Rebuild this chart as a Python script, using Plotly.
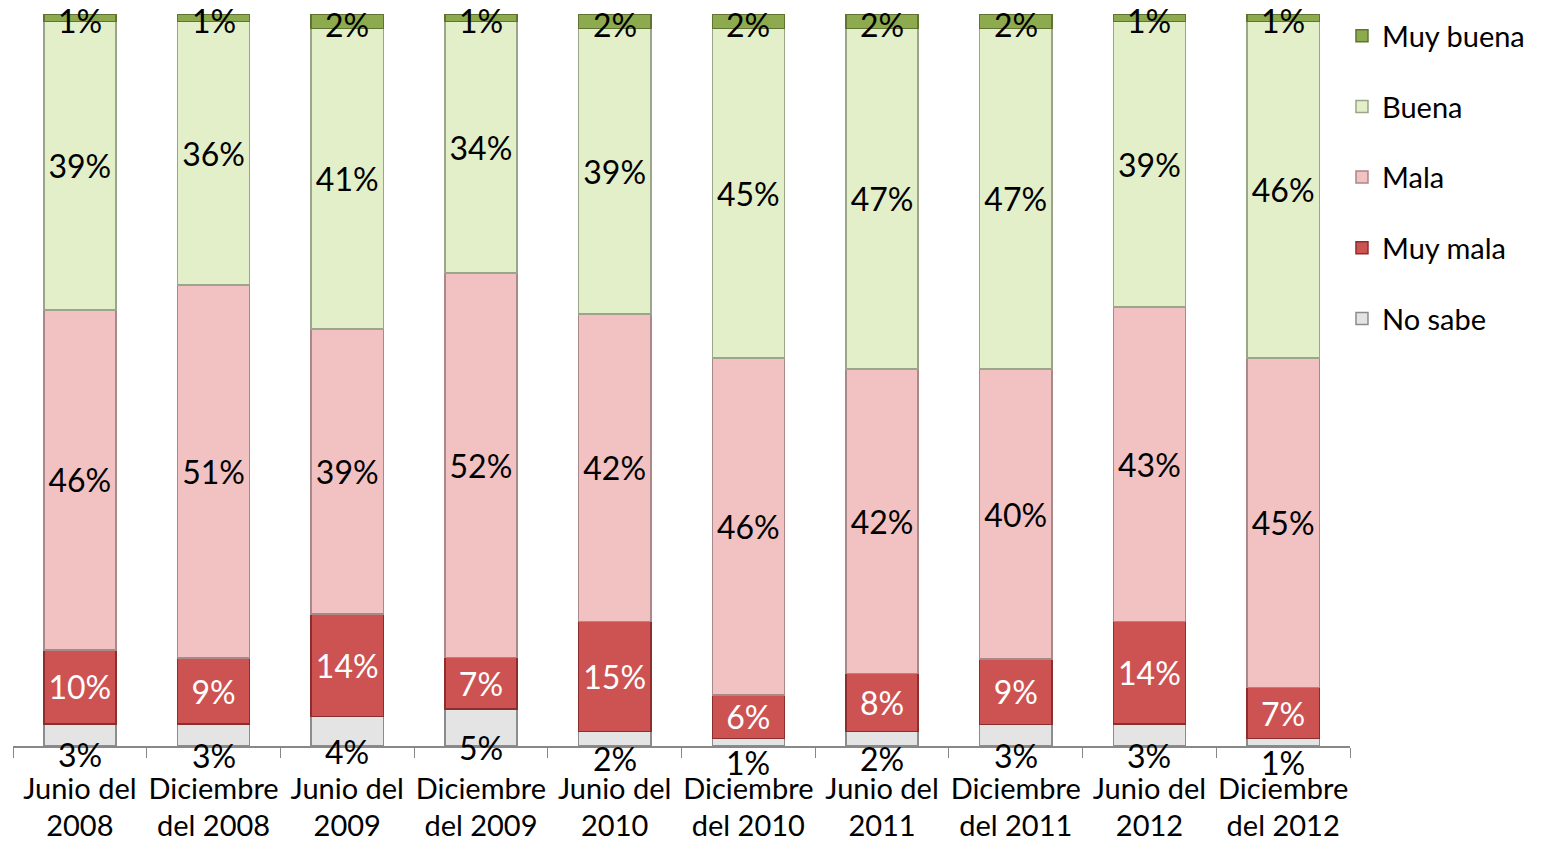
import plotly.graph_objects as go

categories = ["Junio del<br>2008", "Diciembre<br>del 2008", "Junio del<br>2009", "Diciembre<br>del 2009",
              "Junio del<br>2010", "Diciembre<br>del 2010", "Junio del<br>2011", "Diciembre<br>del 2011",
              "Junio del<br>2012", "Diciembre<br>del 2012"]
no_sabe = [3, 3, 4, 5, 2, 1, 2, 3, 3, 1]
muy_mala = [10, 9, 14, 7, 15, 6, 8, 9, 14, 7]
mala = [46, 51, 39, 52, 42, 46, 42, 40, 43, 45]
buena = [39, 36, 41, 34, 39, 45, 47, 47, 39, 46]
muy_buena = [1, 1, 2, 1, 2, 2, 2, 2, 1, 1]

series = [
    ("No sabe", no_sabe, "#E4E4E4", "#8C8C8C", "black"),
    ("Muy mala", muy_mala, "#CD5353", "#8B2E2C", "white"),
    ("Mala", mala, "#F2C2C2", "#A88888", "black"),
    ("Buena", buena, "#E3EFC8", "#9AA58A", "black"),
    ("Muy buena", muy_buena, "#8DAA4E", "#5E7430", "black"),
]

FONT = "Lato, Carlito, Calibri, sans-serif"
LBL = 32
totals = [sum(s[1][i] for s in series) for i in range(len(categories))]

fig = go.Figure()
annotations = []
for rank_i, (name, vals, fill, line, tcol) in enumerate(series):
    norm = [v / t * 100 for v, t in zip(vals, totals)]
    inside = name in ("Muy mala", "Mala", "Buena")
    fig.add_trace(go.Bar(
        x=categories, y=norm, name=name, legendgroup=name,
        legendrank=len(series) - rank_i,
        marker=dict(color=fill, line=dict(color=line, width=1.5)),
        text=[f"{v}%" for v in vals] if inside else None,
        texttemplate="%{text}" if inside else None,
        textposition="inside" if inside else "none",
        insidetextanchor="middle",
        constraintext="none",
        textfont=dict(family=FONT, size=LBL, color=tcol),
        hoverinfo="skip",
    ))

# labels for the thin segments
cum_top = [0.0] * len(categories)
for name, vals, *_ in series:
    for i, (v, t) in enumerate(zip(vals, totals)):
        nv = v / t * 100
        if name == "No sabe":
            annotations.append(dict(x=categories[i], y=nv / 2, text=f"{v}%", showarrow=False,
                                    yshift=-20, font=dict(family=FONT, size=LBL, color="black")))
        if name == "Muy buena":
            annotations.append(dict(x=categories[i], y=cum_top[i] + nv / 2, text=f"{v}%", showarrow=False,
                                    yshift=-3, font=dict(family=FONT, size=LBL, color="black")))
        cum_top[i] += nv

fig.update_layout(
    width=1550, height=841,
    barmode="stack", bargap=0.46,
    plot_bgcolor="white", paper_bgcolor="white",
    margin=dict(l=5, r=208, t=6, b=103, autoexpand=False),
    font=dict(family=FONT, size=29, color="black"),
    legend=dict(traceorder="grouped", x=0.994, y=1.005, xanchor="left", yanchor="top",
                font=dict(family=FONT, size=29), tracegroupgap=30,
                itemwidth=30),
    annotations=annotations,
    showlegend=True,
)
fig.update_xaxes(showline=True, linecolor="#888888", linewidth=1.5, ticks="outside",
                 tickson="boundaries", ticklen=10, tickcolor="#888888", tickangle=0,
                 tickfont=dict(family=FONT, size=29), ticklabelstandoff=16)
fig.update_yaxes(range=[0, 100], visible=False)

fig.write_html("out.html")
